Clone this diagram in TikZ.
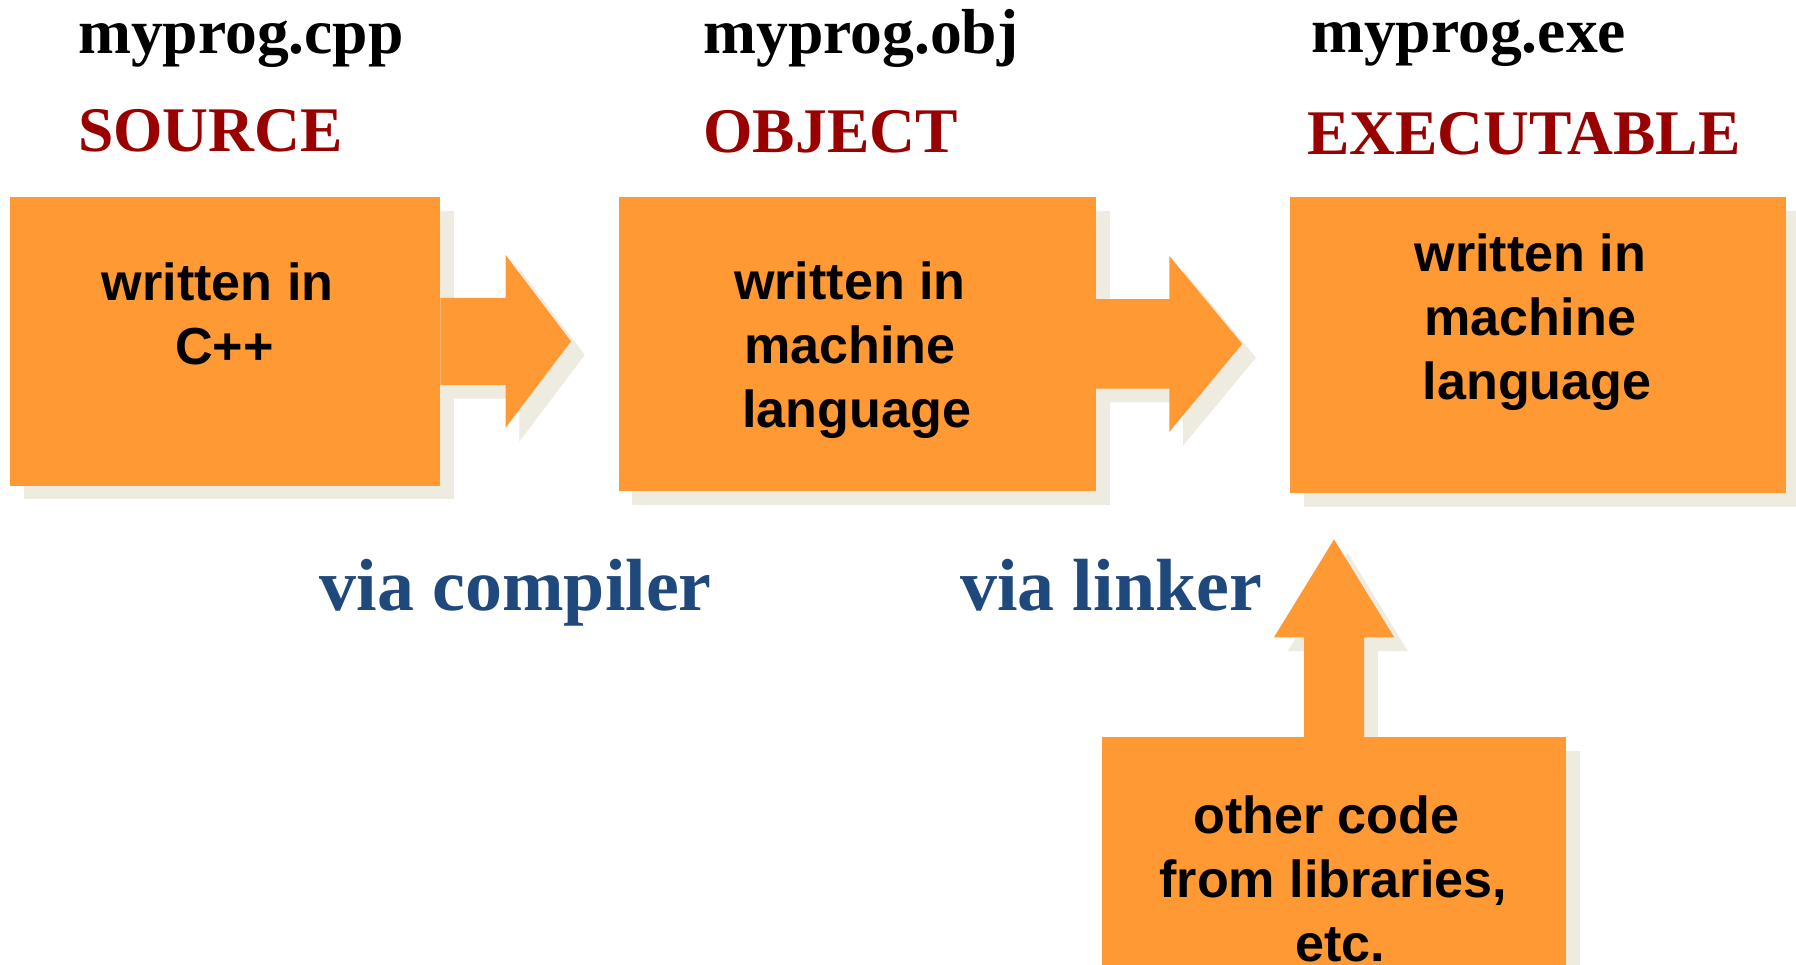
\documentclass[tikz,border=0pt]{standalone}
\usepackage{fontspec}
\setmainfont{Liberation Serif}
\newfontfamily\boxfont{Liberation Sans}
\usetikzlibrary{backgrounds,calc}

\definecolor{boxorange}{HTML}{FF9933}
\definecolor{shadowgrey}{HTML}{EEEBE0}
\definecolor{titlered}{HTML}{990000}
\definecolor{viablue}{HTML}{1F497D}

\tikzset{
  stagebox/.style={fill=boxorange, inner sep=0pt, outer sep=0pt, anchor=north west},
  boxshadow/.style={fill=shadowgrey},
  % multi-line text: the base anchor sits on the last line
  boxtext/.style={inner sep=0pt, align=center, anchor=base,
    font=\boxfont\bfseries\fontsize{45.5}{56}\selectfont},
  filename/.style={inner sep=0pt, anchor=base west,
    font=\bfseries\fontsize{55.5}{60}\selectfont},
  kind/.style={filename, text=titlered},
  via/.style={inner sep=0pt, anchor=base west, text=viablue,
    font=\bfseries\fontsize{64.5}{70}\selectfont},
  % block arrow pointing right: shaft length, head length, shaft half-height, head half-height
  pics/rightarrow/.style n args={4}{code={
    \path[pic actions] (0,-#3) -- (#1,-#3) -- (#1,-#4) -- ({#1+#2},0)
      -- (#1,#4) -- (#1,#3) -- (0,#3) -- cycle;
  }},
  % block arrow pointing up
  pics/uparrow/.style n args={4}{code={
    \path[pic actions] (-#3,0) -- (-#3,-#1) -- (-#4,-#1) -- (0,{-#1-#2})
      -- (#4,-#1) -- (#3,-#1) -- (#3,0) -- cycle;
  }},
}
% nudge a single centred line sideways
\newcommand\padl{\hspace*{12pt}}

\begin{document}
\begin{tikzpicture}[x=1pt,y=-1pt]
\useasboundingbox (0,0) rectangle (1568,842);
\clip (0,0) rectangle (1568,842);

% the four stages
\node[stagebox, minimum width=375.5pt, minimum height=252pt] (src) at (9,172) {};
\node[stagebox, minimum width=417pt, minimum height=256.5pt] (obj) at (540,172) {};
\node[stagebox, minimum width=433pt, minimum height=258.5pt] (exe) at (1126.3,172) {};
\node[stagebox, minimum width=405pt, minimum height=260pt] (lib) at (962.2,643.4) {};

% drop shadows behind everything
\begin{scope}[on background layer]
  \foreach \b in {src,obj,exe,lib}
    \fill[boxshadow] ($(\b.north west)+(12,12)$) rectangle ($(\b.south east)+(12,12)$);
  \pic[boxshadow] at ($(src.east)+(12,12)$) {rightarrow={57}{57}{38}{75.4}};
  \pic[boxshadow] at ($(obj.east)+(12,12)$) {rightarrow={64}{63.5}{39}{76.7}};
  \pic[boxshadow] at ($(lib.north)+(12,12)$) {uparrow={87}{85.5}{26.2}{52.5}};
\end{scope}

% block arrows between the stages
\pic[fill=boxorange] at (src.east) {rightarrow={57}{57}{38}{75.4}};
\pic[fill=boxorange] at (obj.east) {rightarrow={64}{63.5}{39}{76.7}};
\pic[fill=boxorange] at (lib.north) {uparrow={87}{85.5}{26.2}{52.5}};

% box contents
\node[boxtext] (srctxt) at (190,318) {written in\\\padl C++};
\node[boxtext] (objtxt) at (742,373.3) {written in\\machine\\\padl language};
\node[boxtext] (exetxt) at (1336,349) {written in\\machine\\\padl language};
\node[boxtext] (libtxt) at (1164,839.5) {other code\padl\\from libraries,\\\padl etc.};

% headings
\node[filename] (srcname) at (68,46.5) {myprog.cpp};
\node[kind] (srckind) at (68,132.5) {SOURCE};
\node[filename] (objname) at (614,46.5) {myprog.obj};
\node[kind] (objkind) at (614,133) {OBJECT};
\node[filename] (exename) at (1144.5,46) {myprog.exe};
\node[kind] (exekind) at (1141,135) {EXECUTABLE};

% tools
\node[via] (compiler) at (279,533) {via compiler};
\node[via] (linker) at (838,533) {via linker};
\end{tikzpicture}
\end{document}
